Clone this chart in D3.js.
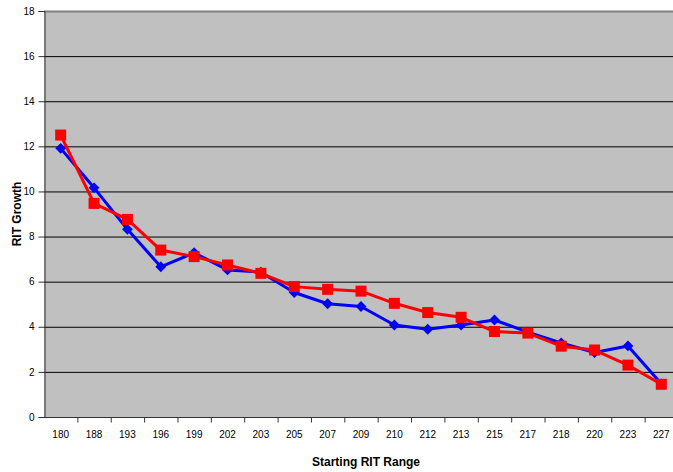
<!DOCTYPE html>
<html><head><meta charset="utf-8">
<script src="https://cdn.jsdelivr.net/npm/d3@7"></script>
<style>body{margin:0;background:#fff}svg{display:block}</style>
</head><body>
<script>
const categories = ["180","188","193","196","199","202","203","205","207","209","210","212","213","215","217","218","220","223","227"];
const blueValues = [11.91,10.16,8.32,6.66,7.28,6.52,6.42,5.52,5.02,4.9,4.08,3.89,4.08,4.3,3.76,3.28,2.86,3.15,1.47];
const redValues  = [12.5,9.47,8.76,7.4,7.11,6.74,6.37,5.78,5.66,5.58,5.04,4.63,4.42,3.79,3.72,3.14,2.97,2.3,1.45];
const yTicks = [0,2,4,6,8,10,12,14,16,18];
const titleText = "Average RIT Growth by Starting RIT Range: Fall to Spring";
const xTitle = "Starting RIT Range";
const yTitle = "RIT Growth";

const W = 673, H = 472;
const L = 44, T = 11, R = 678, B = 417;
const svg = d3.select("body").append("svg").attr("width", W).attr("height", H);

const x = d3.scaleBand().domain(categories).range([L, R]).padding(0);
const y = d3.scaleLinear().domain([0, 18]).range([B, T]);

svg.append("rect").attr("x", L).attr("y", T).attr("width", R - L).attr("height", B - T).attr("fill", "#C0C0C0");

// gridlines
svg.append("g").selectAll("line").data(yTicks.filter(d => d > 0 && d < 18)).join("line")
  .attr("x1", L).attr("x2", R).attr("y1", d => y(d) + 0.5).attr("y2", d => y(d) + 0.5)
  .attr("stroke", "#000").attr("stroke-width", 1);
svg.append("line").attr("x1", L).attr("x2", R).attr("y1", T + 0.5).attr("y2", T + 0.5)
  .attr("stroke", "#808080").attr("stroke-width", 2);

// y axis
const yAxis = d3.axisLeft(y).tickValues(yTicks).tickSize(6).tickPadding(4).tickFormat(d3.format("d"));
const gy = svg.append("g").attr("transform", `translate(${L + 0.5},0)`).call(yAxis);
gy.select(".domain").attr("stroke", "#333");
gy.selectAll(".tick line").attr("stroke", "#333");
gy.selectAll("text").attr("font-family", "Liberation Sans, Arial, sans-serif").attr("font-size", 10).attr("fill", "#000");

// x axis: ticks at band boundaries
const gx = svg.append("g").attr("transform", `translate(0,${B + 0.5})`);
gx.append("line").attr("x1", L).attr("x2", R).attr("stroke", "#333");
gx.selectAll("line.tk").data(categories).join("line").attr("class", "tk")
  .attr("x1", d => x(d) + x.bandwidth() + 0.5).attr("x2", d => x(d) + x.bandwidth() + 0.5)
  .attr("y1", 0).attr("y2", 5).attr("stroke", "#333");
gx.selectAll("text").data(categories).join("text")
  .attr("x", d => x(d) + x.bandwidth() / 2).attr("y", 20)
  .attr("text-anchor", "middle").attr("font-family", "Liberation Sans, Arial, sans-serif")
  .attr("font-size", 10).text(d => d);

// titles
svg.append("text").attr("x", 356).attr("y", -3).attr("text-anchor", "middle")
  .attr("font-family", "Liberation Sans, Arial, sans-serif").attr("font-weight", "bold").attr("font-size", 13).text(titleText);
svg.append("text").attr("x", 366).attr("y", 466).attr("text-anchor", "middle")
  .attr("font-family", "Liberation Sans, Arial, sans-serif").attr("font-weight", "bold").attr("font-size", 12).text(xTitle);
svg.append("text").attr("transform", `translate(21,${(T + B) / 2}) rotate(-90)`).attr("text-anchor", "middle")
  .attr("font-family", "Liberation Sans, Arial, sans-serif").attr("font-weight", "bold").attr("font-size", 12).text(yTitle);

const cx = d => x(d) + x.bandwidth() / 2;
const line = d3.line().x(d => cx(d.c)).y(d => y(d.v));
const blue = categories.map((c, i) => ({c, v: blueValues[i]}));
const red = categories.map((c, i) => ({c, v: redValues[i]}));

svg.append("path").datum(blue).attr("d", line).attr("fill", "none").attr("stroke", "#0000FF").attr("stroke-width", 3).attr("stroke-linejoin", "round");
svg.append("g").selectAll("path").data(blue).join("path")
  .attr("d", d3.symbol(d3.symbolDiamond2, 75)())
  .attr("transform", d => `translate(${cx(d.c)},${y(d.v)})`).attr("fill", "#0000FF");

svg.append("path").datum(red).attr("d", line).attr("fill", "none").attr("stroke", "#FF0000").attr("stroke-width", 3).attr("stroke-linejoin", "round");
svg.append("g").selectAll("rect").data(red).join("rect")
  .attr("x", d => cx(d.c) - 5.5).attr("y", d => y(d.v) - 5.5).attr("width", 11).attr("height", 11)
  .attr("fill", "#FF0000");
</script>
</body></html>
